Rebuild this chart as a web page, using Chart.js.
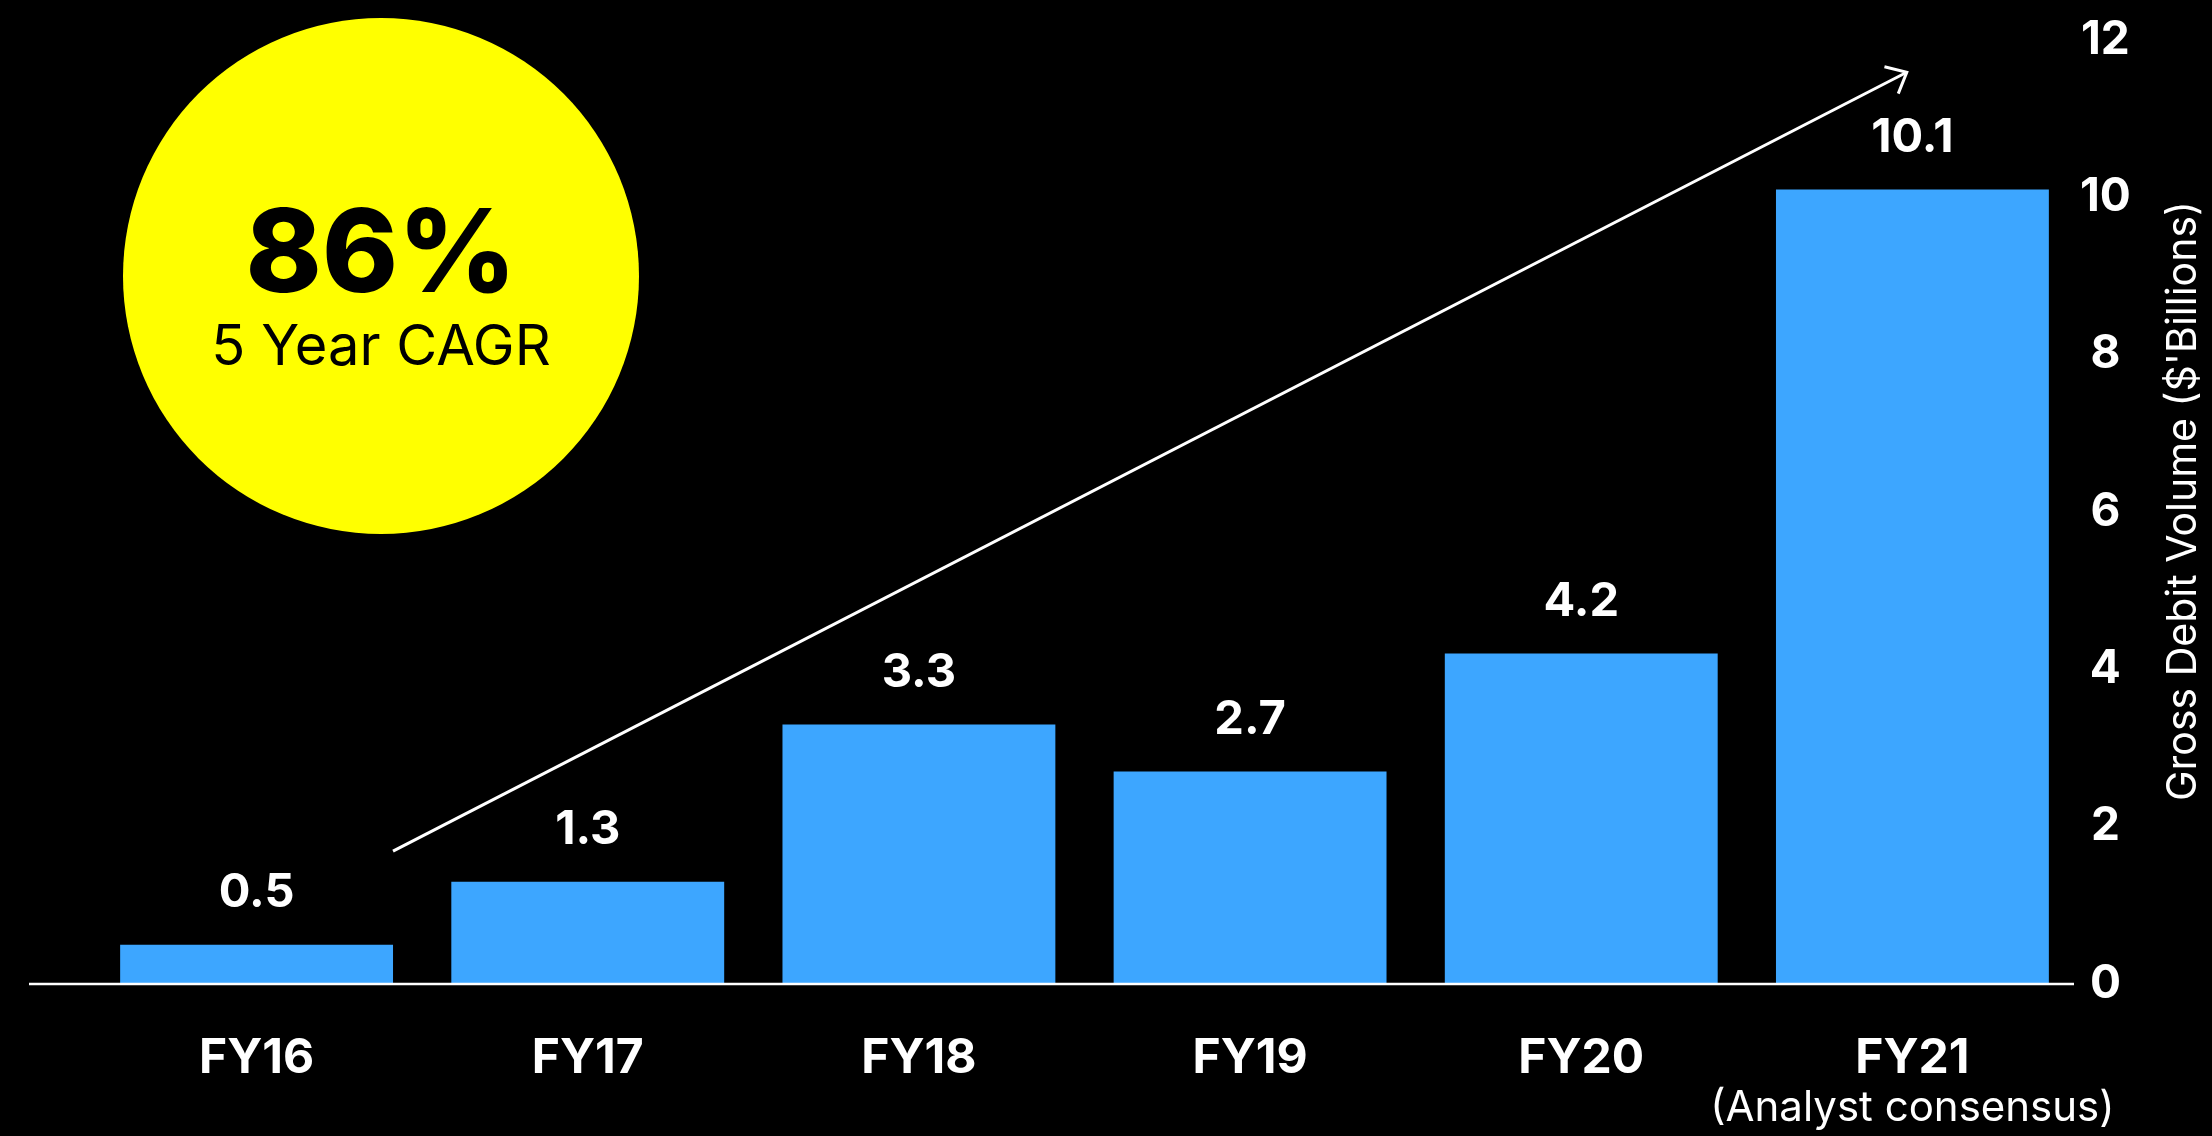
<!DOCTYPE html>
<html>
<head>
<meta charset="utf-8">
<script src="https://cdn.jsdelivr.net/npm/chart.js@4.4.1/dist/chart.umd.min.js"></script>
<style>
  html, body { margin: 0; padding: 0; background: #000; }
  #wrap { width: 2212px; height: 1136px; position: relative; }
</style>
</head>
<body>
<div id="wrap"><canvas id="c"></canvas></div>
<script>
const categories = ['FY16', 'FY17', 'FY18', 'FY19', 'FY20', 'FY21'];
const subLabels = ['', '', '', '', '', '(Analyst consensus)'];
const grossDebitVolume = [0.5, 1.3, 3.3, 2.7, 4.2, 10.1];
const yTicks = [0, 2, 4, 6, 8, 10, 12];
const axisTitle = "Gross Debit Volume ($'Billions)";
const cagrValue = '86%';
const cagrText = '5 Year CAGR';
// trend arrow in data space: [category index, value]
const arrowStart = [0.412, 1.69];
const arrowEnd = [4.983, 11.59];

const FONT = 'Inter, "Noto Sans", sans-serif';
const BLUE = '#3DA6FF';
const YELLOW = '#FFFF00';

const decor = {
  id: 'decor',
  afterDatasetsDraw(chart) {
    const ctx = chart.ctx;
    const xs = chart.scales.x, ys = chart.scales.y;
    const area = chart.chartArea;
    ctx.save();
    // baseline
    const y0 = ys.getPixelForValue(0);
    ctx.strokeStyle = '#ffffff';
    ctx.lineWidth = 2.5;
    ctx.beginPath();
    ctx.moveTo(29, y0);
    ctx.lineTo(area.right - 4, y0);
    ctx.stroke();

    // value labels
    const meta = chart.getDatasetMeta(0);
    ctx.fillStyle = '#ffffff';
    ctx.font = '700 47px ' + FONT;
    ctx.textAlign = 'center';
    ctx.textBaseline = 'middle';
    meta.data.forEach((bar, i) => {
      ctx.fillText(grossDebitVolume[i].toFixed(1), bar.x, bar.y - 52);
    });

    // sub labels under categories
    ctx.font = '400 42px ' + FONT;
    subLabels.forEach((s, i) => {
      if (s) ctx.fillText(s, xs.getPixelForValue(i), 1108);
    });

    // axis title (reads bottom to top)
    ctx.save();
    ctx.translate(2184, 501);
    ctx.rotate(-Math.PI / 2);
    ctx.font = '400 41px ' + FONT;
    ctx.fillText(axisTitle, 0, 0);
    ctx.restore();

    // trend arrow
    const sx = xs.getPixelForValue(arrowStart[0]), sy = ys.getPixelForValue(arrowStart[1]);
    const ex = xs.getPixelForValue(arrowEnd[0]), ey = ys.getPixelForValue(arrowEnd[1]);
    ctx.strokeStyle = '#ffffff';
    ctx.lineWidth = 3;
    ctx.lineCap = 'butt';
    ctx.beginPath();
    ctx.moveTo(sx, sy);
    ctx.lineTo(ex, ey);
    ctx.stroke();
    const ang = Math.atan2(sy - ey, sx - ex);
    const hl = 23, ha = 41 * Math.PI / 180;
    ctx.beginPath();
    ctx.moveTo(ex + hl * Math.cos(ang + ha), ey + hl * Math.sin(ang + ha));
    ctx.lineTo(ex, ey);
    ctx.lineTo(ex + hl * Math.cos(ang - ha), ey + hl * Math.sin(ang - ha));
    ctx.stroke();

    // CAGR circle
    ctx.fillStyle = YELLOW;
    ctx.beginPath();
    ctx.arc(381, 276, 258, 0, Math.PI * 2);
    ctx.fill();
    ctx.fillStyle = '#000000';
    ctx.textAlign = 'center';
    ctx.textBaseline = 'alphabetic';
    ctx.font = '800 115px ' + FONT;
    ctx.fillText(cagrValue, 381, 292);
    ctx.font = '400 56px ' + FONT;
    ctx.fillText(cagrText, 381, 365);
    ctx.restore();
  }
};

new Chart(document.getElementById('c'), {
  type: 'bar',
  data: {
    labels: categories,
    datasets: [{
      data: grossDebitVolume,
      backgroundColor: BLUE,
      borderWidth: 0,
      barPercentage: 0.824,
      categoryPercentage: 1.0
    }]
  },
  options: {
    responsive: true,
    maintainAspectRatio: false,
    animation: false,
    devicePixelRatio: 1,
    layout: { padding: { left: 91, top: 40, right: 0, bottom: 0 } },
    plugins: { legend: { display: false }, tooltip: { enabled: false } },
    scales: {
      x: {
        grid: { display: false, drawTicks: false },
        border: { display: false },
        ticks: {
          color: '#ffffff',
          font: { family: FONT, weight: '700', size: 48 },
          padding: 46,
          maxRotation: 0
        },
        afterFit(s) { s.height = 152; }
      },
      y: {
        position: 'right',
        min: 0,
        max: 12,
        afterBuildTicks(s) { s.ticks = yTicks.map(v => ({ value: v })); },
        grid: { display: false, drawTicks: false },
        border: { display: false },
        ticks: {
          color: '#ffffff',
          font: { family: FONT, weight: '700', size: 46 },
          crossAlign: 'center',
          padding: 2
        },
        afterFit(s) { s.width = 134; }
      }
    }
  },
  plugins: [decor]
});
</script>
</body>
</html>
